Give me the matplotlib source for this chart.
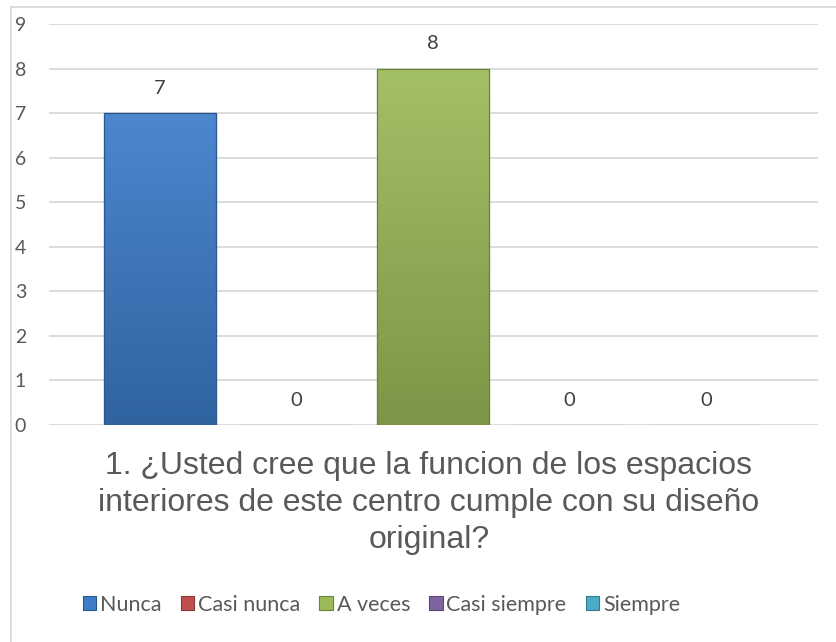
import matplotlib.pyplot as plt
import numpy as np
from matplotlib.patches import Rectangle
from matplotlib.colors import LinearSegmentedColormap, to_rgb

series = ['Nunca', 'Casi nunca', 'A veces', 'Casi siempre', 'Siempre']
values = [7, 0, 8, 0, 0]
colors = ['#3D7CC9', '#C0504D', '#9BBB59', '#8064A2', '#4BACC6']
y_ticks = list(range(0, 10))
title_lines = ['1. ¿Usted cree que la funcion de los espacios',
               'interiores de este centro cumple con su diseño',
               'original?']

W, H = 837, 642
fig = plt.figure(figsize=(W / 100, H / 100), dpi=100)
ax = fig.add_axes([49 / W, 1 - 425 / H, (818 - 49) / W, (425 - 24) / H])

# outer chart border (only left and top show)
fig.patches.append(Rectangle((11 / W, -0.1), 1.2, 1.1 - 7 / H, transform=fig.transFigure,
                             fill=False, edgecolor='#D9D9D9', lw=1.3, zorder=0))

x = np.arange(len(series))
width = 0.815


def shade(c, f):
    r, g, b = to_rgb(c)
    if f > 1:
        return (r + (1 - r) * (f - 1), g + (1 - g) * (f - 1), b + (1 - b) * (f - 1))
    return (r * f, g * f, b * f)


bars = ax.bar(x, values, width=width, color=colors, edgecolor=[shade(c, 0.7) for c in colors],
              linewidth=0.8, zorder=3)

# vertical gradient on each bar, light top to darker bottom
for b, c in zip(bars, colors):
    if b.get_height() <= 0:
        continue
    cmap = LinearSegmentedColormap.from_list('g', [shade(c, 0.8), shade(c, 1.08)])
    x0, w_, h_ = b.get_x(), b.get_width(), b.get_height()
    im = ax.imshow(np.linspace(0, 1, 100).reshape(-1, 1), cmap=cmap, origin='lower',
                   extent=[x0, x0 + w_, 0, h_], aspect='auto', zorder=3.5)
    im.set_clip_path(b)
    ax.add_patch(Rectangle((x0, 0), w_, h_, fill=False, edgecolor=shade(c, 0.7), lw=0.9, zorder=4))

for xi, v in zip(x, values):
    ax.annotate(str(v), (xi, v), xytext=(0, 17.8), textcoords='offset points',
                ha='center', va='center', fontsize=14.5, color='#404040', family='Lato')

ax.set_xlim(-0.813, 4.82)
ax.set_ylim(0, 9)
ax.set_yticks(y_ticks)
ax.set_xticks([])
ax.grid(axis='y', color='#D9D9D9', lw=1.3, zorder=0)
ax.set_axisbelow(True)
for s in ax.spines.values():
    s.set_visible(False)
ax.tick_params(axis='y', length=0, pad=20.5, labelsize=14, labelcolor='#595959')
for t in ax.get_yticklabels():
    t.set_family('Lato')
    t.set_horizontalalignment('center')

# title sits under the plot, three centred lines
for line, base in zip(title_lines, [474, 511, 548]):
    fig.text(429 / W, 1 - base / H, line, ha='center', va='baseline', fontsize=23,
             color='#595959', family='Liberation Sans')

handles = [Rectangle((0, 0), 1, 1, facecolor=c, edgecolor=shade(c, 0.7), lw=0.8) for c in colors]


def add_legend(size):
    return fig.legend(handles, series, loc='center', bbox_to_anchor=(381.5 / W, 1 - 605 / H),
                      ncol=5, frameon=False, handlelength=0.62, handleheight=0.62,
                      handletextpad=0.17, columnspacing=0.9,
                      prop={'family': 'Lato', 'size': size}, labelcolor='#595959')


# scale legend so it spans the same width as the original (~615 px)
size = 16
leg = add_legend(size)
for _ in range(2):
    fig.canvas.draw()
    w_px = leg.get_window_extent().width
    leg.remove()
    size = size * 615 / w_px
    leg = add_legend(size)

fig.savefig('out.png', dpi=100)
